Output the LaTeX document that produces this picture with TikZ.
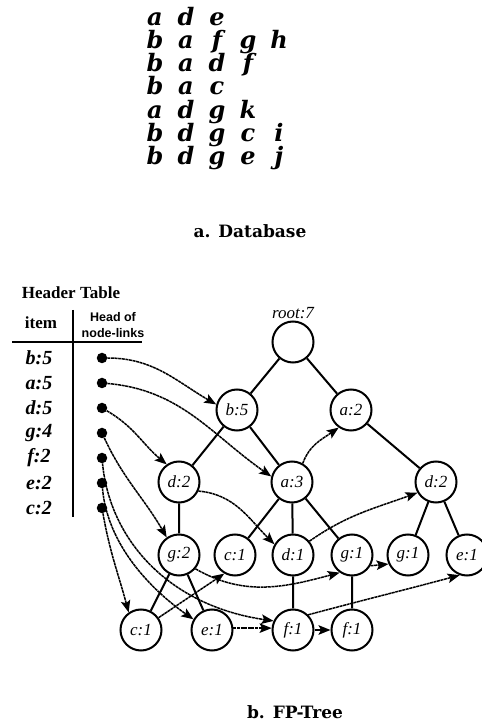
\documentclass[tikz,border=0pt]{standalone}
\usepackage{fontspec}
\setmainfont{Liberation Serif}
\newfontfamily\dbfont{DejaVu Serif}
\newfontfamily\hdrsans{Liberation Sans}
\usetikzlibrary{matrix,arrows.meta,positioning}

\begin{document}
\begin{tikzpicture}[x=1pt,y=1pt,
	fpnode/.style={circle,draw,line width=2pt,minimum size=41pt,inner sep=0pt,
		font=\itshape\fontsize{17}{17}\selectfont},
	hdot/.style={circle,fill,inner sep=0pt,minimum size=10.5pt},
	hitem/.style={font=\bfseries\itshape\fontsize{20}{20}\selectfont},
	treeedge/.style={line width=2pt},
	nodelink/.style={line width=1.5pt,dash pattern=on 3pt off 0.6pt,
		-{Stealth[length=12pt,width=9.5pt,inset=2.5pt]}}]
	\useasboundingbox (0,0) rectangle (482,721);
	\clip (0,0) rectangle (482,721);

	\matrix (db) at (217,629) [matrix of nodes,row sep=0pt,column sep=0pt,
		nodes={font=\dbfont\bfseries\itshape\fontsize{24}{24}\selectfont,
			minimum width=31pt,text height=14.65pt,text depth=8.65pt,
			inner sep=0pt,anchor=center}]
	{
	a & d & e \\
	b & a & f & g & h \\
	b & a & d & f \\
	b & a & c \\
	a & d & g & k \\
	b & d & g & c & i \\
	b & d & g & e & j \\
	};
	\node[font=\dbfont\bfseries\fontsize{17}{17}\selectfont] (capa) at (250,490) {a. Database};

	\node[font=\bfseries\fontsize{17}{17}\selectfont] (hdrtitle) at (71,428) {Header Table};
	\node[font=\bfseries\fontsize{17}{17}\selectfont] (itemhd) at (41,398) {item};
	\node[align=center,font=\hdrsans\bfseries\fontsize{12.5}{16}\selectfont] (headhd) at (113,396) {Head of\\node-links};
	\draw[line width=2pt] (12,379) -- (142,379);
	\draw[line width=2pt] (73,411) -- (73,204);
	\foreach \itm [count=\i] in {b:5,a:5,d:5,g:4,f:2,e:2,c:2} {
		\node[hitem] (i\i) at (39,388-25*\i) {\itm};
		\node[hdot] (h\i) at (102,388-25*\i) {};
	}

	\node[fpnode,label={[font=\itshape\fontsize{17}{17}\selectfont,inner sep=2pt]above:{root:7}}] (root) at (293,379) {};
	\node[fpnode] (b5) at (237,311) {b:5};
	\node[fpnode] (a2) at (351,311) {a:2};
	\node[fpnode] (d2l) at (179,239) {d:2};
	\node[fpnode] (a3) at (292,239) {a:3};
	\node[fpnode] (d2r) at (436,239) {d:2};
	\node[fpnode] (g2) at (179,166) {g:2};
	\node[fpnode] (c1u) at (235,166) {c:1};
	\node[fpnode] (d1) at (293,166) {d:1};
	\node[fpnode] (g1) at (352,166) {g:1};
	\node[fpnode] (g1r) at (408,166) {g:1};
	\node[fpnode] (e1r) at (467,166) {e:1};
	\node[fpnode] (c1l) at (141,91) {c:1};
	\node[fpnode] (e1l) at (212,91) {e:1};
	\node[fpnode] (f1) at (293,91) {f:1};
	\node[fpnode] (f1r) at (352,91) {f:1};

	\draw[treeedge] (root) -- (b5) (root) -- (a2) (b5) -- (d2l) (b5) -- (a3)
		(a2) -- (d2r) (d2l) -- (g2) (a3) -- (c1u) (a3) -- (d1) (a3) -- (g1)
		(d2r) -- (g1r) (d2r) -- (e1r) (g2) -- (c1l) (g2) -- (e1l)
		(d1) -- (f1) (g1) -- (f1r);

	\draw[nodelink] (h1) to[out=0,in=150] (b5.165);
	\draw[nodelink] (h2) to[out=-5,in=145] (a3.165);
	\draw[nodelink] (h3) to[out=-30,in=140] (d2l.125);
	\draw[nodelink] (h4) to[out=-65,in=120] (g2.125);
	\draw[nodelink] (h5) .. controls (110,180) and (170,115) .. (f1.155);
	\draw[nodelink] (h6) .. controls (108,170) and (160,125) .. (e1l.150);
	\draw[nodelink] (h7) to[out=-80,in=105] (c1l.125);
	\draw[nodelink] (a3.60) to[out=70,in=215] (a2.235);
	\draw[nodelink] (d2l.-25) to[out=-5,in=135] (d1.150);
	\draw[nodelink] (d1.40) to[out=35,in=200] (d2r.210);
	\draw[nodelink] (g2.-40) to[out=-30,in=195] (g1.235);
	\draw[nodelink] (g1.-30) -- (g1r.205);
	\draw[nodelink] (c1l.35) -- (c1u.240);
	\draw[nodelink] (e1l.5) -- (f1.175);
	\draw[nodelink] (f1) -- (f1r);
	\draw[nodelink] (f1.45) to[out=15,in=195] (e1r.250);

	\node[font=\dbfont\bfseries\fontsize{17}{17}\selectfont] (capb) at (295,9) {b. FP-Tree};
\end{tikzpicture}
\end{document}
